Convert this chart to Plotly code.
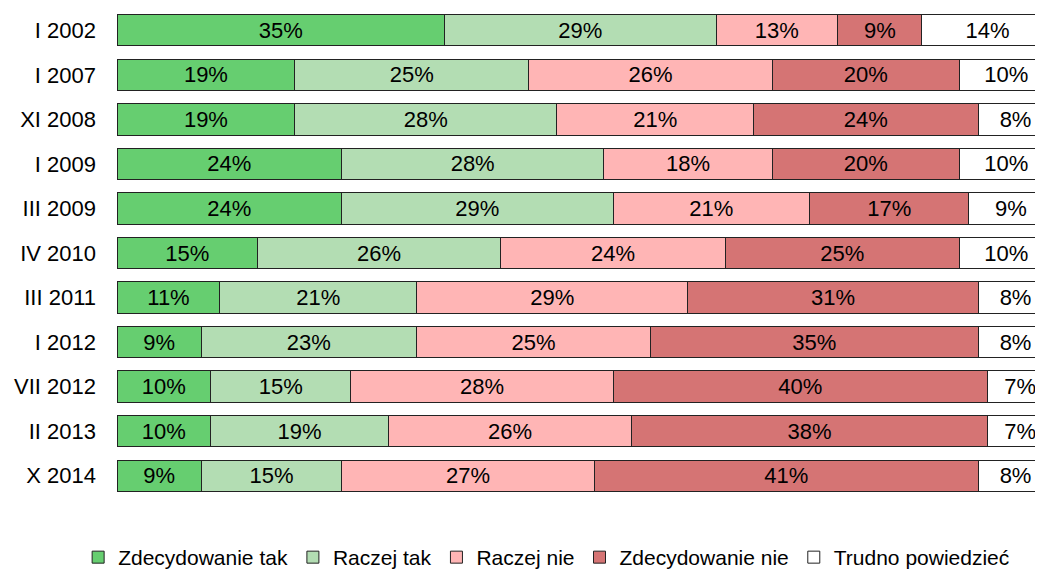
import plotly.graph_objects as go

categories = ["I 2002", "I 2007", "XI 2008", "I 2009", "III 2009", "IV 2010",
              "III 2011", "I 2012", "VII 2012", "II 2013", "X 2014"]

zdecydowanie_tak = [35, 19, 19, 24, 24, 15, 11, 9, 10, 10, 9]
raczej_tak = [29, 25, 28, 28, 29, 26, 21, 23, 15, 19, 15]
raczej_nie = [13, 26, 21, 18, 21, 24, 29, 25, 28, 26, 27]
zdecydowanie_nie = [9, 20, 24, 20, 17, 25, 31, 35, 40, 38, 41]
trudno_powiedziec = [14, 10, 8, 10, 9, 10, 8, 8, 7, 7, 8]

series = [
    ("Zdecydowanie tak", zdecydowanie_tak, "rgb(102,206,112)"),
    ("Raczej tak", raczej_tak, "rgb(179,221,179)"),
    ("Raczej nie", raczej_nie, "rgb(255,181,181)"),
    ("Zdecydowanie nie", zdecydowanie_nie, "rgb(213,116,116)"),
    ("Trudno powiedzieć", trudno_powiedziec, "rgb(255,255,255)"),
]

FONT = "Liberation Sans, Arial, sans-serif"

fig = go.Figure()
for name, vals, color in series:
    fig.add_trace(go.Bar(
        name=name,
        y=categories,
        x=vals,
        orientation="h",
        marker=dict(color=color, line=dict(color="#222222", width=1)),
        text=[f"{v}%" for v in vals],
        textposition="inside",
        insidetextanchor="middle",
        textfont=dict(family=FONT, size=22, color="black"),
        hoverinfo="skip",
    ))

fig.update_layout(
    width=1043,
    height=570,
    barmode="stack",
    bargap=0.295,
    plot_bgcolor="white",
    paper_bgcolor="white",
    margin=dict(l=109, r=0, t=0, b=79, pad=0),
    font=dict(family=FONT, size=22, color="black"),
    uniformtext=dict(minsize=22, mode="show"),
    xaxis=dict(range=[0, 99.79], visible=False, fixedrange=True),
    yaxis=dict(
        autorange="reversed",
        showgrid=False,
        zeroline=False,
        showline=False,
        ticks="",
        ticklabelstandoff=20,
        tickfont=dict(family=FONT, size=22, color="black"),
    ),
    legend=dict(
        orientation="h",
        traceorder="normal",
        x=0.46,
        xanchor="center",
        y=-0.122,
        yanchor="middle",
        font=dict(family=FONT, size=21, color="black"),
        itemwidth=30,
        tracegroupgap=0,
    ),
)

fig.write_html("out.html")
